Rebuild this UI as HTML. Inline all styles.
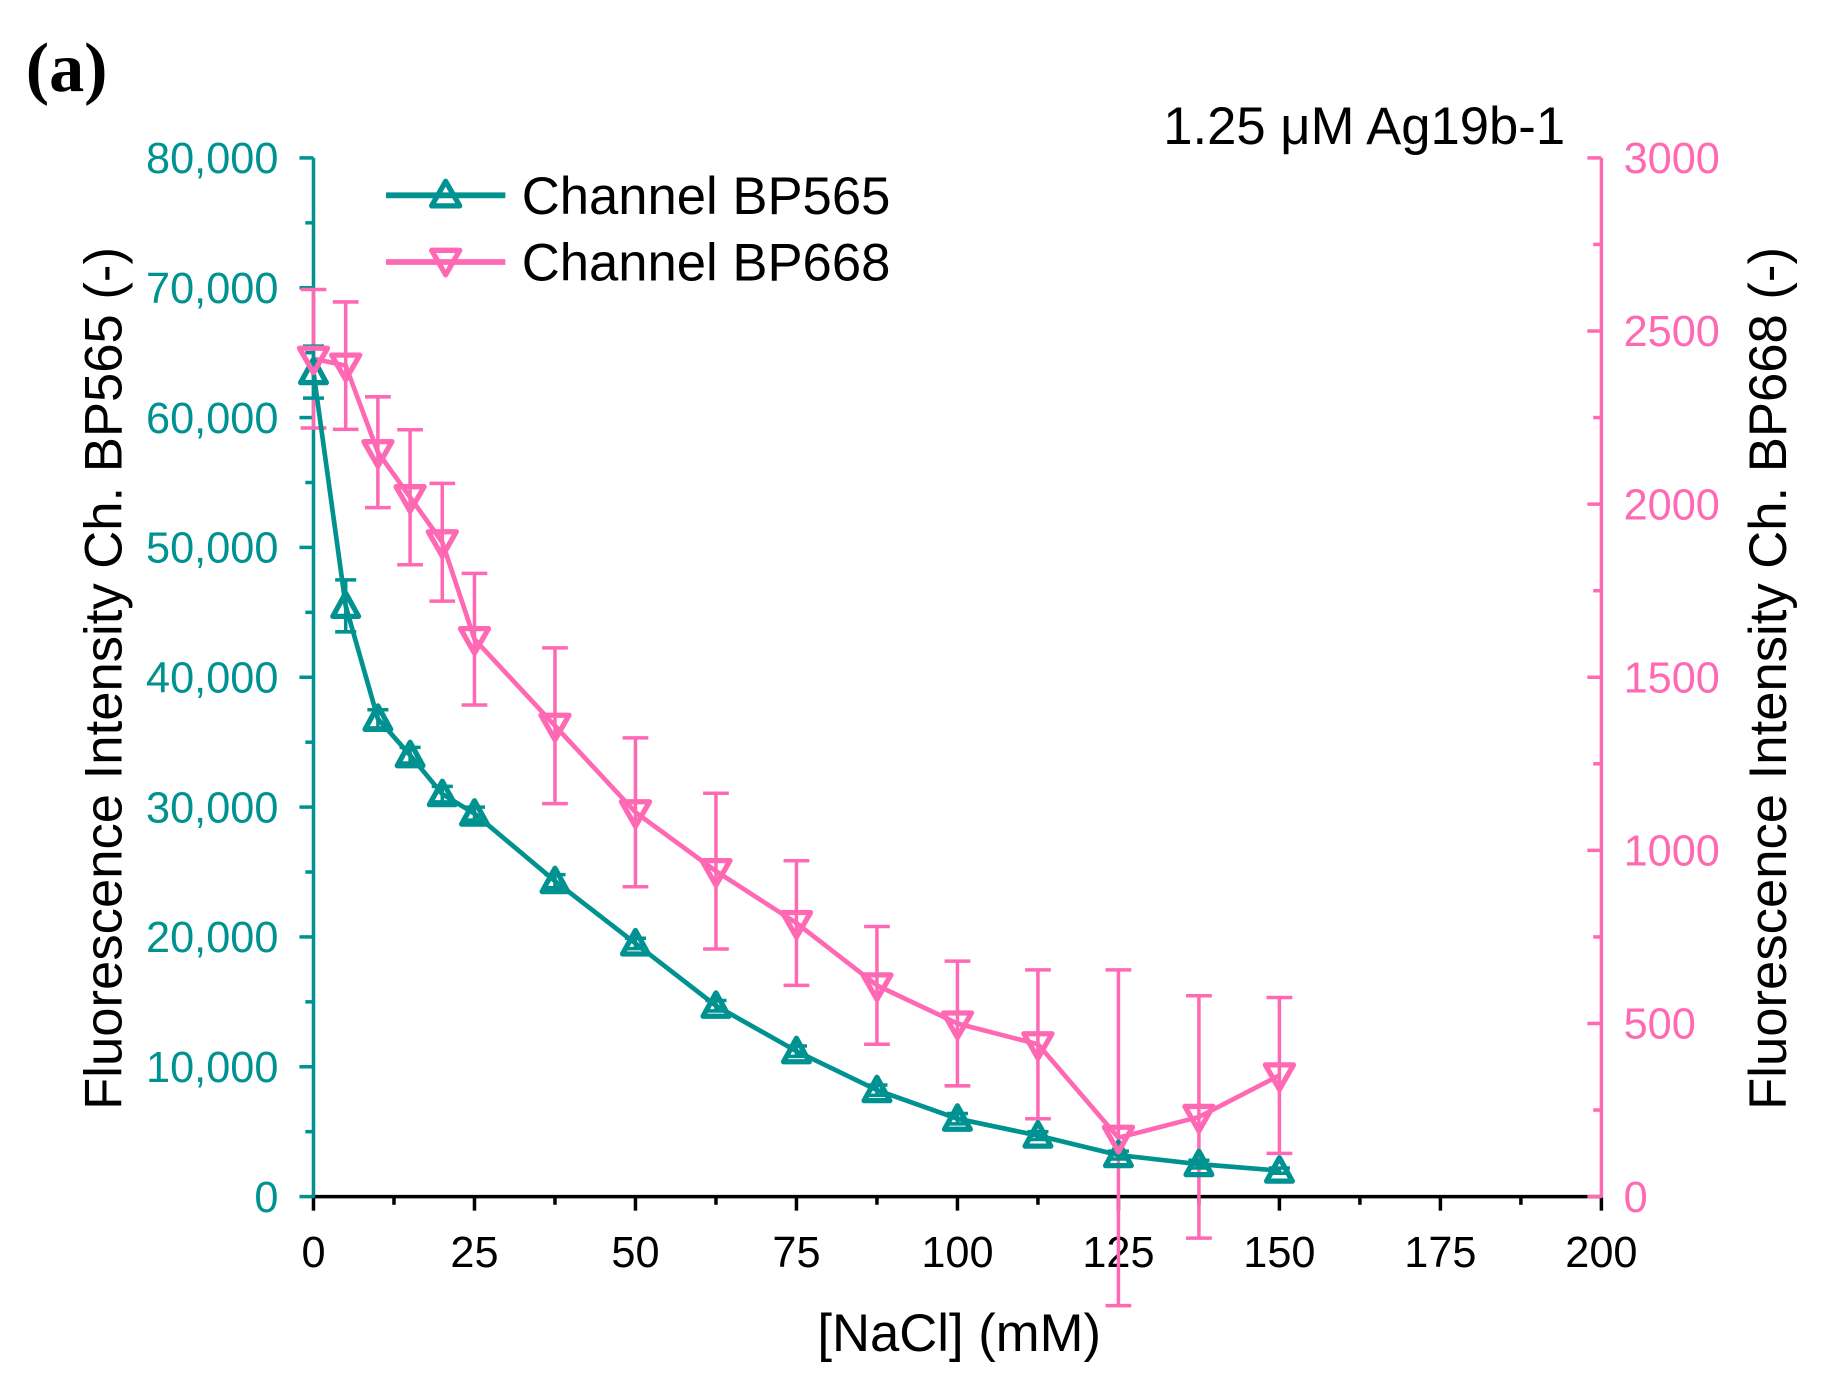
<!DOCTYPE html>
<html><head><meta charset="utf-8"><style>
html,body{margin:0;padding:0;background:#fff;width:1833px;height:1382px;overflow:hidden}
svg{display:block}
text{font-family:"Liberation Sans",Arial,sans-serif}
</style></head><body>
<svg id="s" width="1833" height="1382" viewBox="0 0 1567 1181.5" preserveAspectRatio="none" xmlns="http://www.w3.org/2000/svg">
<text x="22" y="78" font-weight="bold" font-size="60" style="font-family:'Liberation Serif',serif">(a)</text>
<text x="1338" y="123" font-size="45" text-anchor="end">1.25 μM Ag19b-1</text>
<text x="820" y="1155" font-size="45" text-anchor="middle">[NaCl] (mM)</text>
<text transform="translate(104,580) rotate(-90)" font-size="45" text-anchor="middle">Fluorescence Intensity Ch. BP565 (-)</text>
<text transform="translate(1527,580) rotate(-90)" font-size="45" text-anchor="middle">Fluorescence Intensity Ch. BP668 (-)</text>
<g id="g"></g>
<line x1="330" y1="167" x2="432" y2="167" stroke="#009290" stroke-width="5"/>
<path d="M369,176 L381,155 L393,176 Z" fill="none" stroke="#009290" stroke-width="4.5" stroke-linejoin="round"/>
<text x="446" y="183" font-size="45">Channel BP565</text>
<line x1="330" y1="224" x2="432" y2="224" stroke="#ff69b4" stroke-width="5"/>
<path d="M369,214 L381,235 L393,214 Z" fill="none" stroke="#ff69b4" stroke-width="4.5" stroke-linejoin="round"/>
<text x="446" y="240" font-size="45">Channel BP668</text>
</svg>
<script>
const T='#009290',P='#ff69b4';
const X=v=>268+v*5.505, YL=v=>1023-v*888/80000, YR=v=>1023-v*888/3000;
let h='';
h+=`<line x1="268" y1="1023" x2="1369" y2="1023" stroke="#000" stroke-width="3"/>`;
for(let v=0;v<=200;v+=12.5){const big=v%25==0;h+=`<line x1="${X(v)}" y1="1023" x2="${X(v)}" y2="${1023+(big?12:7)}" stroke="#000" stroke-width="3"/>`;
 if(big)h+=`<text x="${X(v)}" y="1083" font-size="37" text-anchor="middle">${v}</text>`;}
h+=`<line x1="268" y1="135" x2="268" y2="1024" stroke="${T}" stroke-width="3"/>`;
for(let v=0;v<=80000;v+=5000){const big=v%10000==0,y=YL(v);h+=`<line x1="${268-(big?12:7)}" y1="${y}" x2="268" y2="${y}" stroke="${T}" stroke-width="3"/>`;
 if(big)h+=`<text x="238" y="${y+13}" font-size="37" fill="${T}" text-anchor="end">${v?v.toLocaleString('en-US'):0}</text>`;}
h+=`<line x1="1369" y1="135" x2="1369" y2="1024" stroke="${P}" stroke-width="3"/>`;
for(let v=0;v<=3000;v+=250){const big=v%500==0,y=YR(v);h+=`<line x1="${1369-(big?12:7)}" y1="${y}" x2="1369" y2="${y}" stroke="${P}" stroke-width="3"/>`;
 if(big)h+=`<text x="1388" y="${y+13}" font-size="37" fill="${P}">${v}</text>`;}
const xs=[0,5,10,15,20,25,37.5,50,62.5,75,87.5,100,112.5,125,137.5,150];
const t=[63500,45500,36800,34000,31000,29500,24300,19500,14700,11200,8200,6000,4700,3200,2500,2000];
const te=[2000,2000,700,600,600,500,500,400,400,400,400,400,300,300,300,200];
const p=[2420,2400,2150,2020,1890,1610,1360,1110,940,790,610,500,440,170,230,350];
const pe=[200,184,160,195,170,190,225,215,225,180,170,180,215,485,350,225];
xs.forEach((x,i)=>{const a=YR(p[i]+pe[i]),b=YR(p[i]-pe[i]),cx=X(x);
 h+=`<path d="M${cx},${a}V${b}M${cx-11},${a}H${cx+11}M${cx-11},${b}H${cx+11}" stroke="${P}" stroke-width="3" fill="none"/>`;});
xs.forEach((x,i)=>{const a=YL(t[i]+te[i]),b=YL(t[i]-te[i]),cx=X(x);
 h+=`<path d="M${cx},${a}V${b}M${cx-9},${a}H${cx+9}M${cx-9},${b}H${cx+9}" stroke="${T}" stroke-width="3" fill="none"/>`;});
h+=`<polyline points="${xs.map((x,i)=>X(x)+','+YL(t[i])).join(' ')}" fill="none" stroke="${T}" stroke-width="4"/>`;
h+=`<polyline points="${xs.map((x,i)=>X(x)+','+YR(p[i])).join(' ')}" fill="none" stroke="${P}" stroke-width="4"/>`;
xs.forEach((x,i)=>{const cx=X(x),y=YL(t[i]);h+=`<path d="M${cx-11},${y+9}L${cx},${y-11}L${cx+11},${y+9}Z" fill="none" stroke="${T}" stroke-width="4.5" stroke-linejoin="round"/>`;});
xs.forEach((x,i)=>{const cx=X(x),y=YR(p[i]);h+=`<path d="M${cx-12},${y-9}L${cx},${y+12}L${cx+12},${y-9}Z" fill="none" stroke="${P}" stroke-width="4.5" stroke-linejoin="round"/>`;});
document.getElementById('g').innerHTML=h;
</script>
</body></html>
